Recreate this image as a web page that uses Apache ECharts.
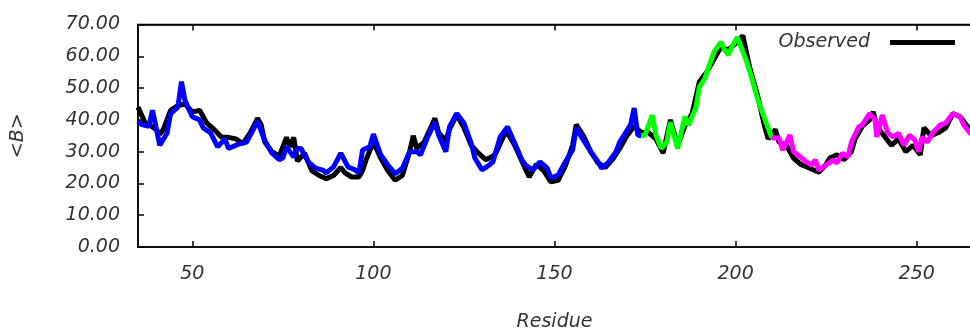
<!DOCTYPE html>
<html>
<head>
<meta charset="utf-8">
<script src="https://cdn.jsdelivr.net/npm/echarts@6/dist/echarts.min.js"></script>
<style>
  html, body { margin: 0; padding: 0; background: #fff; }
  #chart { width: 970px; height: 329px; }
</style>
</head>
<body>
<div id="chart"></div>
<script>
// residue ticks
const residueTicks = [50, 100, 150, 200, 250];

// observed <B> per residue [residue, value]
const observed = [
  [35,44],[36,41.5],[37,39],[38,38.5],[40,37],[41,35.5],[42,37],[44,43],[46,44.5],[48,45],
  [50,42.5],[52,43],[54,39],[56,37],[58,34.6],[60,34.5],[62,34],[64,32.5],[66,36],[68,40.5],
  [69,38.5],[70,33],[72,30],[74,28.5],[76,34.5],[77,31.5],[78,34.5],[79,27],[81,29.5],[83,24],
  [85,22.5],[87,21.5],[89,22.5],[91,25],[92,23.5],[94,22],[96,22],[97,24],[98,27.5],[100,33],
  [102,28],[104,24],[106,21],[108,22.5],[110,30],[111,35],[112,31],[114,33],[116,38],[117,40.5],
  [118,36],[120,33.5],[121,37],[123,41.5],[125,37.5],[127,32],[129,29.5],[131,27.5],[133,28.5],[134,30],
  [136,35],[137,36],[139,32],[141,27],[143,22],[145,26],[147,24],[149,20.5],[151,21],[153,25.5],
  [155,32],[156,38.5],[158,35],[160,30],[162,26.5],[164,25],[166,27.5],[168,31],[170,35],[172,38],
  [174,36],[176,36],[178,34],[180,29.5],[182,40],[184,32],[186,38],[188,42],[190,52],[192,55],
  [194,59],[196,63],[198,62],[200,64],[202,66.5],[204,56],[206,48],[208,38],[209,34],[211,37],
  [212,33],[214,32],[216,28],[218,26],[220,25],[223,23.5],[225,26],[226,28],[228,29],[230,27.5],
  [232,30],[233,34],[235,38],[237,40],[238,42.5],[239,38],[241,35],[243,32],[245,34],[247,30],
  [249,32],[251,29],[252,37.5],[254,35],[256,36],[258,37.5],[260,42],[262,41],[264,38],[265,37]
];

// predicted, first segment (blue)
const predBlue = [
  [35,39.5],[36,38.5],[38,38],[39,43],[41,32],[43,35.8],[44,42],[46,44],[47,52],[48,46],
  [50,41],[52,40],[53,37.5],[55,36],[57,31.5],[59,34],[60,31],[63,32.5],[65,33],[68,39.5],
  [70,33.5],[72,29.5],[74,27.5],[75,28],[76,31.5],[78,28.3],[79,31],[80,31],[82,26.8],[84,24.8],
  [86,24.2],[87,23.3],[89,25.2],[91,29.5],[93,25.2],[95,24.2],[96,23.3],[97,30.5],[99,31.5],[100,35.5],
  [102,29],[104,25.8],[106,23],[108,24.8],[110,30],[112,30],[113,29],[115,34.6],[117,39.3],[118,35.2],
  [120,30],[121,37.8],[123,42],[125,39],[127,32.6],[128,28],[130,24.2],[132,25.8],[133,26.8],[135,34.6],
  [137,37.8],[139,32.7],[141,27.4],[142,25.8],[144,24.2],[146,26.8],[148,24.8],[149,21.7],[151,22.6],[153,26.8],
  [155,30.5],[156,37.4],[158,33.6],[160,30],[162,26.8],[163,24.8],[165,26.8],[167,30],[168,33],[171,38.4],
  [172,43.7],[173,35.2],[174,35]
];

// predicted, second segment (green)
const predGreen = [
  [174,35],[175,35.2],[177,41.5],[178,35.2],[179.5,31],[181,33],[182,39.3],[184,31],[185,36],[186,41],
  [187,38.4],[189,43.7],[190,50.3],[191.5,53],[193,58],[194,61.3],[196,64.5],[197,62],[198,60.4],[199,63],
  [200.5,66],[203,58.5],[204.5,53],[206,46.8],[208,40.5],[210,34.3]
];

// predicted, third segment (magenta)
const predMagenta = [
  [210,34.3],[212,34.3],[213,30.5],[215,35.2],[216,30],[218,28.3],[219.5,26.8],[221,25.8],[222,27.4],[223,24.2],
  [225,25.8],[227,27.4],[228,26.4],[229.5,29.5],[231,28.3],[232,33],[234,37.8],[235,38.4],[237,42],[238.5,40],
  [239,34.6],[240.5,41.5],[242,36],[243.5,34.6],[245,35.8],[246.5,32],[248,35.2],[249.5,33.6],[250.5,30],[251.5,34.6],
  [253,33],[254.5,36],[256.5,38.4],[258,39],[260,42],[262,41],[263,38.4],[265,35.5]
];

const chart = echarts.init(document.getElementById('chart'));

const font = { fontFamily: 'DejaVu Sans', fontStyle: 'italic', fontSize: 19, color: '#333' };
const axisLine = () => ({ show: true, onZero: false, lineStyle: { color: '#000', width: 1.5 } });
const tick = () => ({ show: true, inside: true, length: 6, lineStyle: { color: '#000', width: 1.5 }, customValues: residueTicks });

const line = (name, data, color, xIdx) => ({
  name: name,
  type: 'line',
  data: data,
  xAxisIndex: xIdx,
  color: color,
  showSymbol: false,
  symbol: 'none',
  lineStyle: { width: 5, color: color },
  z: name === 'Observed' ? 2 : 3
});

chart.setOption({
  animation: false,
  backgroundColor: '#fff',
  textStyle: { fontFamily: 'DejaVu Sans' },
  grid: {
    show: true, borderColor: '#000', borderWidth: 1.5,
    left: 138, right: -1, top: 24.5, bottom: 82, containLabel: false, outerBoundsMode: 'none'
  },
  legend: {
    data: ['Observed'],
    right: 15,
    top: 33,
    padding: 0,
    align: 'right',
    icon: 'rect',
    itemWidth: 65,
    itemHeight: 5,
    textStyle: Object.assign({}, font, { padding: [0, 15, 0, 0] })
  },
  xAxis: [
    {
      type: 'value',
      position: 'bottom',
      min: 35,
      max: 265,
      axisLine: axisLine(),
      axisTick: tick(),
      axisLabel: Object.assign({ margin: 18, customValues: residueTicks }, font),
      splitLine: { show: false },
      name: 'Residue',
      nameLocation: 'middle',
      nameGap: 66,
      nameTextStyle: font
    },
    {
      type: 'value',
      position: 'top',
      min: 35,
      max: 265,
      axisLine: axisLine(),
      axisTick: tick(),
      axisLabel: { show: false },
      splitLine: { show: false }
    }
  ],
  yAxis: {
    type: 'value',
    min: 0,
    max: 70,
    interval: 10,
    axisLine: axisLine(),
    axisTick: { show: true, inside: true, length: 6, lineStyle: { color: '#000', width: 1.5 } },
    axisLabel: Object.assign({ margin: 18, formatter: v => v.toFixed(2) }, font),
    splitLine: { show: false },
    name: '<B>',
    nameLocation: 'middle',
    nameRotate: 90,
    nameGap: 110,
    nameTextStyle: font
  },
  series: [
    line('Observed', observed, '#000000', 0),
    line('Predicted A', predBlue, '#0000ff', 0),
    line('Predicted B', predGreen, '#00ff00', 0),
    line('Predicted C', predMagenta, '#ff00ff', 1)
  ]
});
</script>
</body>
</html>
